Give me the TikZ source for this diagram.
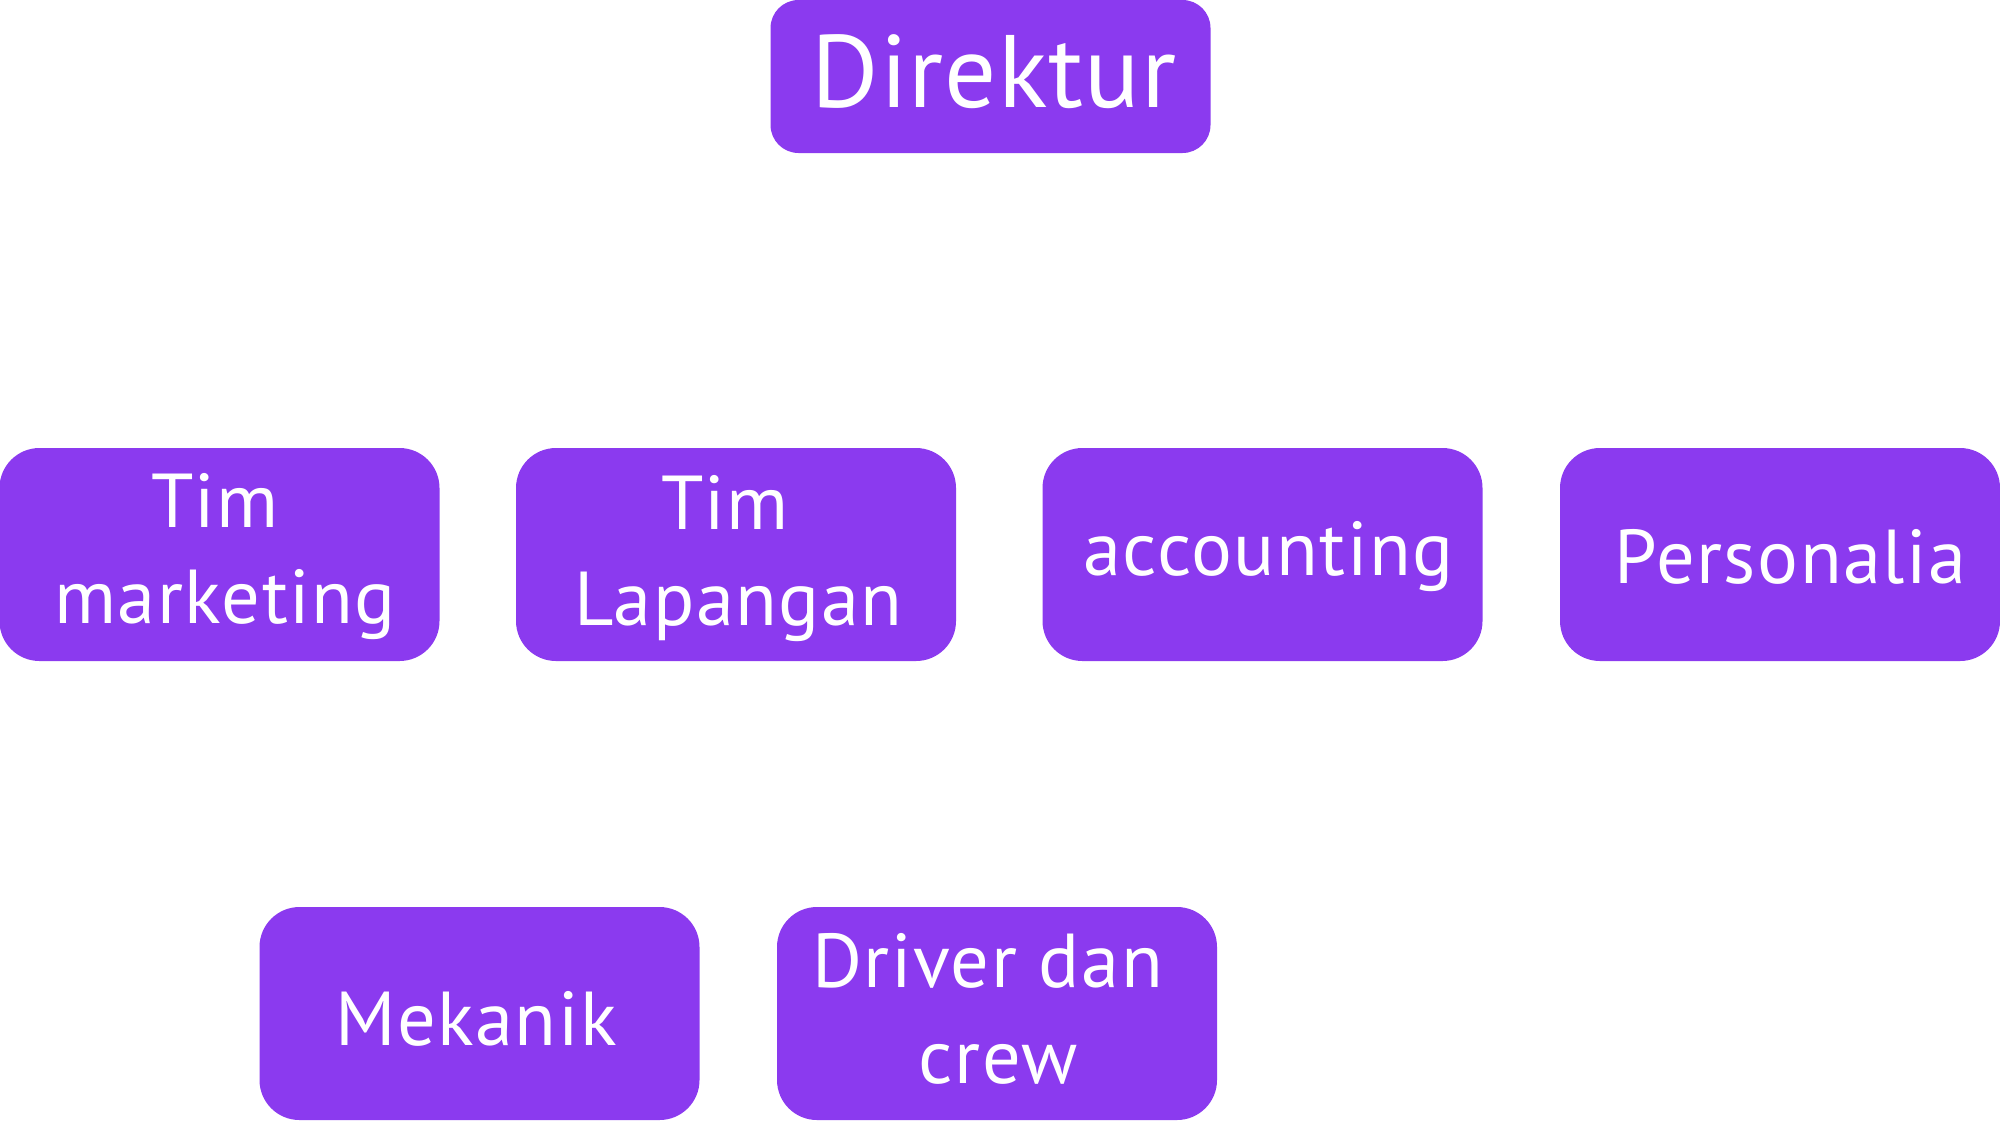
\documentclass[tikz,border=0pt]{standalone}
\usepackage{fontspec}
\setmainfont[Ligatures=CommonOff]{PT Sans}
\newfontfamily\rowfont[Ligatures=CommonOff, LetterSpace=2.0]{PT Sans}
\newfontfamily\topfont[Ligatures=CommonOff, LetterSpace=1.0]{PT Sans}
\definecolor{boxpurple}{RGB}{139,58,239}
\tikzset{
  orgbox/.style={fill=boxpurple, draw=none, rounded corners=20pt, minimum width=220pt, minimum height=106.5pt, inner sep=0pt},
  topbox/.style={fill=boxpurple, draw=none, rounded corners=14pt, minimum width=220pt, minimum height=76.5pt, inner sep=0pt},
  rowtxt/.style={text=white, anchor=base, inner sep=0pt, font=\rowfont\fontsize{38.2pt}{45pt}\selectfont},
  toptxt/.style={text=white, anchor=base, inner sep=0pt, font=\topfont\fontsize{51.5pt}{60pt}\selectfont}
}
\begin{document}
\begin{tikzpicture}[x=0.5pt, y=-0.5pt]
\useasboundingbox (0,0) rectangle (2000,1120);
% boxes
\node[topbox] (dir) at (990.5,76.5) {};
\node[orgbox] (mkt) at (219.5,554.5) {};
\node[orgbox] (lap) at (736,554.5) {};
\node[orgbox] (acc) at (1262.5,554.5) {};
\node[orgbox] (per) at (1780,554.5) {};
\node[orgbox] (mek) at (479.5,1013.5) {};
\node[orgbox] (drv) at (997,1013.5) {};
% texts
\node[toptxt] (tdir) at (994,107) {Direktur};
\node[rowtxt] (tmkt1) at (215,527) {Tim};
\node[rowtxt] (tmkt2) at (225,623) {marketing};
\node[rowtxt] (tlap1) at (725,529) {Tim};
\node[rowtxt] (tlap2) at (738.5,625) {Lapangan};
\node[rowtxt] (tacc) at (1268.5,575) {accounting};
\node[rowtxt] (tper) at (1790.5,583) {Personalia};
\node[rowtxt] (tmek) at (476,1045) {Mekanik};
\node[rowtxt] (tdrv1) at (987.5,987) {Driver dan};
\node[rowtxt] (tdrv2) at (998.5,1083) {crew};
\end{tikzpicture}
\end{document}
